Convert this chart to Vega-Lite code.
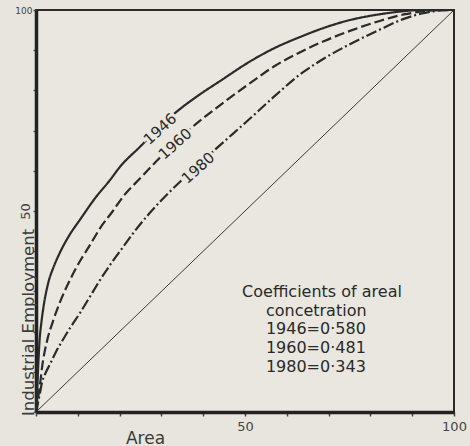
{
  "$schema": "https://vega.github.io/schema/vega-lite/v6.json",
  "width": 418,
  "height": 402,
  "autosize": {"type": "none"},
  "padding": {"left": 36, "top": 10, "right": 16, "bottom": 34},
  "background": "#e7e5dd",
  "config": {
    "view": {"stroke": "#2a2a2a", "strokeWidth": 2, "fill": "#e9e7df"},
    "font": "DejaVu Sans",
    "axis": {"grid": false}
  },
  "datasets": {
    "curves": [
      {"series": "1946", "a": 0, "e": 0},
      {"series": "1946", "a": 0.3, "e": 6},
      {"series": "1946", "a": 0.6, "e": 13},
      {"series": "1946", "a": 0.9, "e": 18.5},
      {"series": "1946", "a": 1.2, "e": 21.5},
      {"series": "1946", "a": 1.7, "e": 25.5},
      {"series": "1946", "a": 2.9, "e": 32},
      {"series": "1946", "a": 4.3, "e": 36.3},
      {"series": "1946", "a": 5.7, "e": 39.6},
      {"series": "1946", "a": 8, "e": 44},
      {"series": "1946", "a": 10.5, "e": 47.8},
      {"series": "1946", "a": 14, "e": 53},
      {"series": "1946", "a": 17.7, "e": 57.7},
      {"series": "1946", "a": 20.1, "e": 61},
      {"series": "1946", "a": 24.9, "e": 66},
      {"series": "1946", "a": 29, "e": 70.3},
      {"series": "1946", "a": 33.3, "e": 74.4},
      {"series": "1946", "a": 38.5, "e": 78.5},
      {"series": "1946", "a": 44, "e": 82.3},
      {"series": "1946", "a": 51.2, "e": 87.2},
      {"series": "1946", "a": 57, "e": 90.5},
      {"series": "1946", "a": 63.2, "e": 93.3},
      {"series": "1946", "a": 69, "e": 95.6},
      {"series": "1946", "a": 75.1, "e": 97.5},
      {"series": "1946", "a": 82, "e": 98.9},
      {"series": "1946", "a": 88, "e": 99.7},
      {"series": "1946", "a": 92, "e": 100},
      {"series": "1946", "a": 100, "e": 100},
      {"series": "1960", "a": 0, "e": 0},
      {"series": "1960", "a": 1, "e": 7.2},
      {"series": "1960", "a": 1.5, "e": 11.5},
      {"series": "1960", "a": 2.6, "e": 17.5},
      {"series": "1960", "a": 4.2, "e": 23},
      {"series": "1960", "a": 6, "e": 28},
      {"series": "1960", "a": 8.1, "e": 32.8},
      {"series": "1960", "a": 10.5, "e": 37.5},
      {"series": "1960", "a": 12.9, "e": 41.5},
      {"series": "1960", "a": 15.5, "e": 46},
      {"series": "1960", "a": 18.4, "e": 50},
      {"series": "1960", "a": 21, "e": 53.8},
      {"series": "1960", "a": 24.8, "e": 58},
      {"series": "1960", "a": 28.9, "e": 62.5},
      {"series": "1960", "a": 33, "e": 66.8},
      {"series": "1960", "a": 37.3, "e": 70.8},
      {"series": "1960", "a": 44, "e": 76.3},
      {"series": "1960", "a": 51.2, "e": 81.8},
      {"series": "1960", "a": 57, "e": 86},
      {"series": "1960", "a": 63.2, "e": 89.5},
      {"series": "1960", "a": 69, "e": 92.3},
      {"series": "1960", "a": 75.1, "e": 94.8},
      {"series": "1960", "a": 82, "e": 97.2},
      {"series": "1960", "a": 88, "e": 98.9},
      {"series": "1960", "a": 93, "e": 99.7},
      {"series": "1960", "a": 97, "e": 100},
      {"series": "1960", "a": 100, "e": 100},
      {"series": "1980", "a": 0, "e": 0},
      {"series": "1980", "a": 1, "e": 5},
      {"series": "1980", "a": 1.4, "e": 7.2},
      {"series": "1980", "a": 2.2, "e": 9.5},
      {"series": "1980", "a": 3.3, "e": 11.8},
      {"series": "1980", "a": 4.8, "e": 15},
      {"series": "1980", "a": 6.4, "e": 17.9},
      {"series": "1980", "a": 8.4, "e": 21.3},
      {"series": "1980", "a": 10.5, "e": 24.6},
      {"series": "1980", "a": 12.8, "e": 28.5},
      {"series": "1980", "a": 15.3, "e": 32.8},
      {"series": "1980", "a": 18, "e": 37},
      {"series": "1980", "a": 20.8, "e": 41},
      {"series": "1980", "a": 24, "e": 45.5},
      {"series": "1980", "a": 27.2, "e": 49.5},
      {"series": "1980", "a": 32, "e": 54.8},
      {"series": "1980", "a": 36, "e": 58.8},
      {"series": "1980", "a": 43.3, "e": 65.7},
      {"series": "1980", "a": 51.2, "e": 73},
      {"series": "1980", "a": 57, "e": 78.5},
      {"series": "1980", "a": 63.2, "e": 84},
      {"series": "1980", "a": 69, "e": 88},
      {"series": "1980", "a": 75.1, "e": 91.5},
      {"series": "1980", "a": 82, "e": 95},
      {"series": "1980", "a": 88, "e": 97.8},
      {"series": "1980", "a": 93, "e": 99.3},
      {"series": "1980", "a": 97, "e": 99.9},
      {"series": "1980", "a": 100, "e": 100}
    ],
    "equality": [
      {"a": 0, "e": 0},
      {"a": 100, "e": 100}
    ],
    "curveLabels": [
      {"label": "1946", "a": 29.7, "e": 70.4},
      {"label": "1960", "a": 33.3, "e": 66.7},
      {"label": "1980", "a": 38.8, "e": 60.7}
    ],
    "notes": [
      {"text": "Coefficients of areal", "a": 49.3, "e": 28.6},
      {"text": "concetration", "a": 55.0, "e": 23.9},
      {"text": "1946=0·580", "a": 55.0, "e": 19.4},
      {"text": "1960=0·481", "a": 55.0, "e": 14.7},
      {"text": "1980=0·343", "a": 55.0, "e": 10.0}
    ]
  },
  "layer": [
    {
      "data": {"name": "equality"},
      "mark": {"type": "line", "color": "#3a3a3a", "strokeWidth": 1},
      "encoding": {
        "x": {
          "field": "a", "type": "quantitative",
          "scale": {"domain": [0, 100], "nice": false},
          "axis": {
            "values": [0, 10, 20, 30, 40, 50, 60, 70, 80, 90, 100],
            "labelExpr": "datum.value == 50 || datum.value == 100 ? datum.label : ''",
            "labelFlush": false,
            "domainColor": "#222222", "domainWidth": 3.5,
            "tickColor": "#444444", "tickSize": 4, "tickWidth": 1.5,
            "labelFontSize": 13, "labelColor": "#444444", "labelPadding": 4,
            "labelFont": "DejaVu Sans",
            "title": "Area", "titleFontSize": 17, "titleFontWeight": "normal",
            "titleColor": "#3a3a3a", "titleX": 109, "titleY": 31,
            "titleAlign": "center", "titleBaseline": "alphabetic"
          }
        },
        "y": {
          "field": "e", "type": "quantitative",
          "scale": {"domain": [0, 100], "nice": false},
          "axis": {
            "values": [0, 10, 20, 30, 40, 50, 60, 70, 80, 90, 100],
            "labelExpr": "datum.value == 50 || datum.value == 100 ? datum.label : ''",
            "domainColor": "#222222", "domainWidth": 3.5,
            "tickColor": "#555555", "tickSize": 3, "tickWidth": 1.5,
            "labelColor": "#444444", "labelPadding": 1,
            "labelFont": "DejaVu Sans",
            "labelFontSize": {"condition": {"test": "datum.value == 100", "value": 9}, "value": 13},
            "labelAlign": {"condition": {"test": "datum.value == 50", "value": "center"}, "value": "right"},
            "labelBaseline": {"condition": {"test": "datum.value == 50", "value": "bottom"}, "value": "middle"},
            "encoding": {
              "labels": {
                "angle": {"condition": {"test": "datum.value == 50", "value": -90}, "value": 0}
              }
            },
            "title": "Industrial Employment", "titleFontSize": 16.5, "titleFontWeight": "normal",
            "titleColor": "#3a3a3a", "titleAngle": -90, "titleX": -3, "titleY": 312,
            "titleAlign": "center", "titleBaseline": "alphabetic"
          }
        }
      }
    },
    {
      "data": {"name": "curves"},
      "mark": {"type": "line", "color": "#2a2a2a", "strokeWidth": 2.2, "interpolate": "monotone"},
      "encoding": {
        "x": {"field": "a", "type": "quantitative"},
        "y": {"field": "e", "type": "quantitative"},
        "detail": {"field": "series"},
        "strokeDash": {
          "field": "series", "type": "nominal",
          "scale": {"domain": ["1946", "1960", "1980"], "range": [[1, 0], [10, 4], [11, 3, 2, 3]]},
          "legend": null
        }
      }
    },
    {
      "data": {"name": "curveLabels"},
      "mark": {"type": "text", "angle": -42, "fontSize": 15, "font": "DejaVu Sans", "fill": "#e9e7df", "stroke": "#e9e7df", "strokeWidth": 6, "align": "center", "baseline": "middle"},
      "encoding": {
        "x": {"field": "a", "type": "quantitative"},
        "y": {"field": "e", "type": "quantitative"},
        "text": {"field": "label"}
      }
    },
    {
      "data": {"name": "curveLabels"},
      "mark": {"type": "text", "angle": -42, "fontSize": 15, "font": "DejaVu Sans", "color": "#2a2a2a", "align": "center", "baseline": "middle"},
      "encoding": {
        "x": {"field": "a", "type": "quantitative"},
        "y": {"field": "e", "type": "quantitative"},
        "text": {"field": "label"}
      }
    },
    {
      "data": {"name": "notes"},
      "mark": {"type": "text", "fontSize": 16, "font": "DejaVu Sans", "color": "#2a2a2a", "align": "left", "baseline": "alphabetic"},
      "encoding": {
        "x": {"field": "a", "type": "quantitative"},
        "y": {"field": "e", "type": "quantitative"},
        "text": {"field": "text"}
      }
    }
  ]
}
